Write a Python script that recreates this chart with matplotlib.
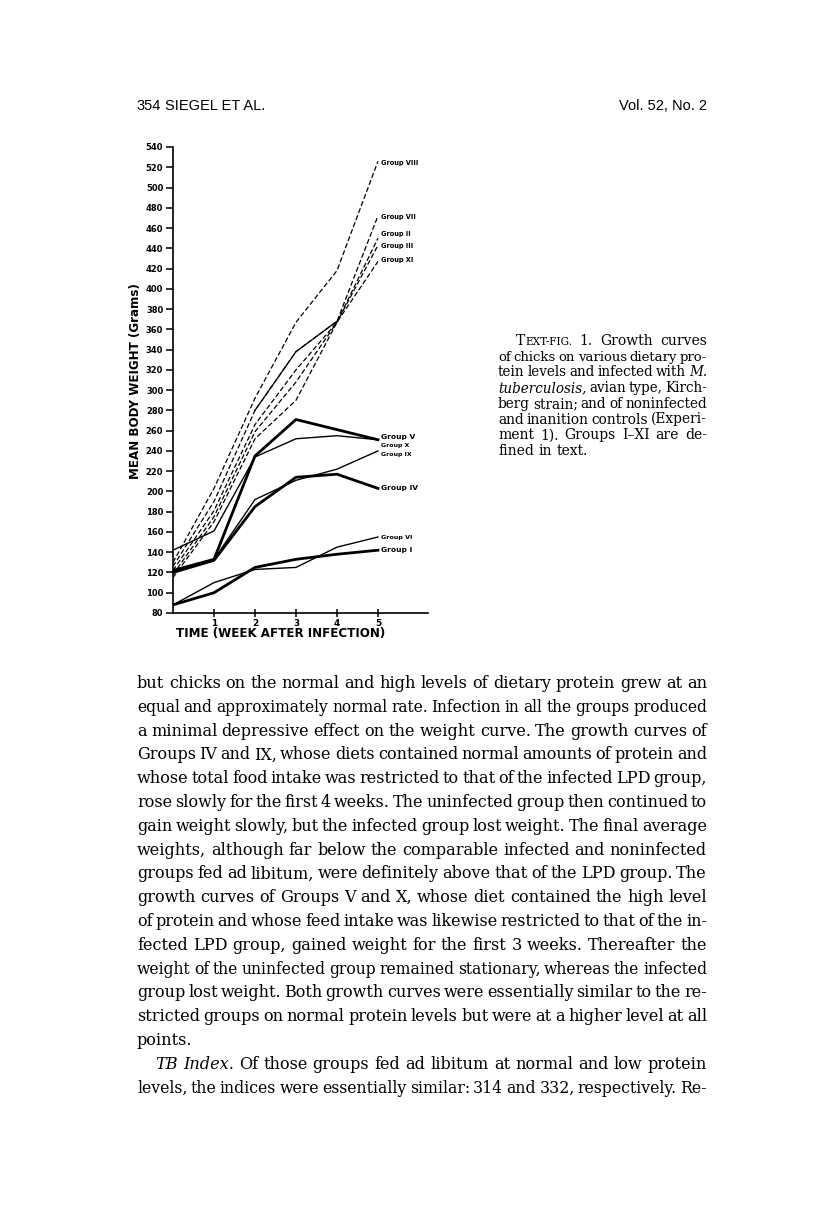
import matplotlib
matplotlib.use("Agg")
from matplotlib import pyplot as plt
from matplotlib.font_manager import FontProperties

W, H = 816, 1229

# growth data (mean body weight, grams)
weeks = [0, 1, 2, 3, 4, 5]

g1 = [88, 100, 125, 133, 138, 142]
g6 = [88, 110, 123, 125, 145, 155]
g4 = [120, 132, 185, 214, 217, 203]
g9 = [122, 133, 192, 211, 222, 240]
g5 = [122, 133, 235, 271, 261, 251]
g10 = [142, 161, 234, 252, 255, 251]

g8 = [130, 203, 292, 367, 418, 526]
g7 = [126, 190, 280, 338, 368, 472]
g2 = [122, 181, 266, 320, 367, 450]
g3 = [118, 175, 259, 308, 367, 443]
g11 = [115, 170, 252, 290, 367, 427]

y_ticks = list(range(80, 541, 20))
x_ticks = [1, 2, 3, 4, 5]

header_left = "354"
header_author = "SIEGEL ET AL."
header_right = "Vol. 52, No. 2"

caption_lines = [
    "^TEXT-FIG. 1.  Growth curves",
    "of chicks on various dietary pro-",
    "tein levels and infected with _M._",
    "_tuberculosis,_ avian type, Kirch-",
    "berg strain; and of noninfected",
    "and inanition controls (Experi-",
    "ment 1). Groups I\u2013XI are de-",
    "fined in text.",
]

body_lines = [
    "but chicks on the normal and high levels of dietary protein grew at an",
    "equal and approximately normal rate. Infection in all the groups produced",
    "a minimal depressive effect on the weight curve. The growth curves of",
    "Groups IV and IX, whose diets contained normal amounts of protein and",
    "whose total food intake was restricted to that of the infected LPD group,",
    "rose slowly for the first 4 weeks. The uninfected group then continued to",
    "gain weight slowly, but the infected group lost weight. The final average",
    "weights, although far below the comparable infected and noninfected",
    "groups fed ad libitum, were definitely above that of the LPD group. The",
    "growth curves of Groups V and X, whose diet contained the high level",
    "of protein and whose feed intake was likewise restricted to that of the in-",
    "fected LPD group, gained weight for the first 3 weeks. Thereafter the",
    "weight of the uninfected group remained stationary, whereas the infected",
    "group lost weight. Both growth curves were essentially similar to the re-",
    "stricted groups on normal protein levels but were at a higher level at all",
    "points.",
    "_TB_ _Index._ Of those groups fed ad libitum at normal and low protein",
    "levels, the indices were essentially similar: 314 and 332, respectively. Re-",
]
body_ragged = {15}

fig = plt.figure(figsize=(W / 100, H / 100), dpi=100)
fig.patch.set_facecolor("white")
renderer = fig.canvas.get_renderer()


def fx(px):
    return px / W


def fy(py):
    return 1 - py / H


def text_w(s, fp):
    w, h, d = renderer.get_text_width_height_descent(s, fp, ismath=False)
    return w


def word_runs(tok, fp_r, fp_i, fp_sc):
    if tok.startswith("^"):
        t = tok[1:]
        return [(t[0], fp_r), (t[1:], fp_sc)]
    if tok.startswith("_") and tok.endswith("_"):
        return [(tok[1:-1], fp_i)]
    return [(tok, fp_r)]


def make_fonts(size):
    fp_r = FontProperties(family="DejaVu Serif", size=size)
    fp_i = FontProperties(family="DejaVu Serif", style="italic", size=size)
    fp_sc = FontProperties(family="DejaVu Serif", size=size * 0.76)
    return fp_r, fp_i, fp_sc


def line_size(toks, target, space_frac):
    # font size at which the words plus spaces of space_frac fill the target
    fp_r, fp_i, fp_sc = make_fonts(10)
    sp = text_w("a a", fp_r) - 2 * text_w("a", fp_r)
    ww = sum(text_w(s, f) for t in toks for s, f in word_runs(t, fp_r, fp_i, fp_sc))
    return 10 * target / (ww + (len(toks) - 1) * sp * space_frac)


def fit_size(lines, x0, x1, indents, ragged):
    sizes = sorted(line_size(l.split(), (x1 - x0) - indents.get(i, 0), 1.0)
                   for i, l in enumerate(lines) if i not in ragged)
    return sizes[len(sizes) // 2]


def draw_block(lines, x0, x1, y0, dy, base, indents, ragged):
    for i, line in enumerate(lines):
        toks = line.split()
        left = x0 + indents.get(i, 0)
        size = base
        if i not in ragged:
            size = min(base, line_size(toks, x1 - left, 0.6))
        fp_r, fp_i, fp_sc = make_fonts(size)
        sp = text_w("a a", fp_r) - 2 * text_w("a", fp_r)
        runs = [word_runs(t, fp_r, fp_i, fp_sc) for t in toks]
        widths = [sum(text_w(s, f) for s, f in r) for r in runs]
        if i in ragged or len(toks) == 1:
            gap = sp
        else:
            gap = (x1 - left - sum(widths)) / (len(toks) - 1)
        x = left
        y = y0 + i * dy
        for r, w in zip(runs, widths):
            xx = x
            for s, f in r:
                fig.text(fx(xx), fy(y), s, fontproperties=f, va="baseline", ha="left")
                xx += text_w(s, f)
            x += w + gap


# header
fp_head = FontProperties(family="Liberation Sans", size=10.5)
fig.text(fx(136), fy(110), header_left, fontproperties=fp_head, va="baseline")
fig.text(fx(165), fy(110), header_author, fontproperties=fp_head, va="baseline")
fig.text(fx(707), fy(110), header_right, fontproperties=fp_head, va="baseline", ha="right")

# chart
ax = fig.add_axes([fx(173), fy(613), fx(428) - fx(173), fy(147) - fy(613)])
ax.set_xlim(0, 6.22)
ax.set_ylim(80, 540)
for sp_name in ["top", "right"]:
    ax.spines[sp_name].set_visible(False)
ax.spines["left"].set_linewidth(1.2)
ax.spines["bottom"].set_linewidth(1.2)

ax.set_yticks(y_ticks)
ax.set_xticks(x_ticks)
ax.tick_params(axis="y", direction="out", length=5, width=1.1, pad=2, labelsize=6.0)
ax.tick_params(axis="x", direction="inout", length=6, width=1.1, pad=1, labelsize=6.4)
for lab in ax.get_yticklabels() + ax.get_xticklabels():
    lab.set_fontweight("bold")

dash = (0, (4, 2))
for g in [g8, g7, g2, g3, g11]:
    ax.plot(weeks, g, color="black", lw=0.9, ls=dash)
ax.plot(weeks[2:5], g7[2:5], color="black", lw=0.9)

for g in [g6, g9, g10]:
    ax.plot(weeks, g, color="black", lw=1.0)
for g in [g1, g4, g5]:
    ax.plot(weeks, g, color="black", lw=2.0)

labels = [
    ("Group VIII", g8, -2, 4.8),
    ("Group VII", g7, -1, 4.8),
    ("Group II", g2, 4, 4.8),
    ("Group III", g3, -1, 4.8),
    ("Group XI", g11, 1, 4.8),
    ("Group V", g5, 3, 5.4),
    ("Group X", g10, -6, 4.5),
    ("Group IX", g9, -4, 4.5),
    ("Group IV", g4, 0, 5.4),
    ("Group VI", g6, 0, 4.6),
    ("Group I", g1, 0, 5.4),
]
for name, g, off, fs in labels:
    ax.text(5.07, g[-1] + off, name, fontsize=fs, fontweight="bold", va="center", ha="left")

fig.text(fx(136), fy(381), "MEAN BODY WEIGHT (Grams)", rotation=90, fontsize=8.6,
         fontweight="bold", ha="center", va="center")
fig.text(fx(281), fy(633), "TIME (WEEK AFTER INFECTION)", fontsize=8.6,
         fontweight="bold", ha="center", va="center")

# caption
cap_indents = {0: 18}
cap_ragged = {7}
cap_size = fit_size(caption_lines, 498, 707, cap_indents, cap_ragged) * 1.05
draw_block(caption_lines, 498, 707, 345, 15.7, cap_size, cap_indents, cap_ragged)

# body text
b_indents = {16: 18}
b_size = fit_size(body_lines, 137, 707, b_indents, body_ragged) * 1.04
draw_block(body_lines, 137, 707, 688, 23.8, b_size, b_indents, body_ragged)

fig.savefig("out.png", dpi=100, facecolor="white")
